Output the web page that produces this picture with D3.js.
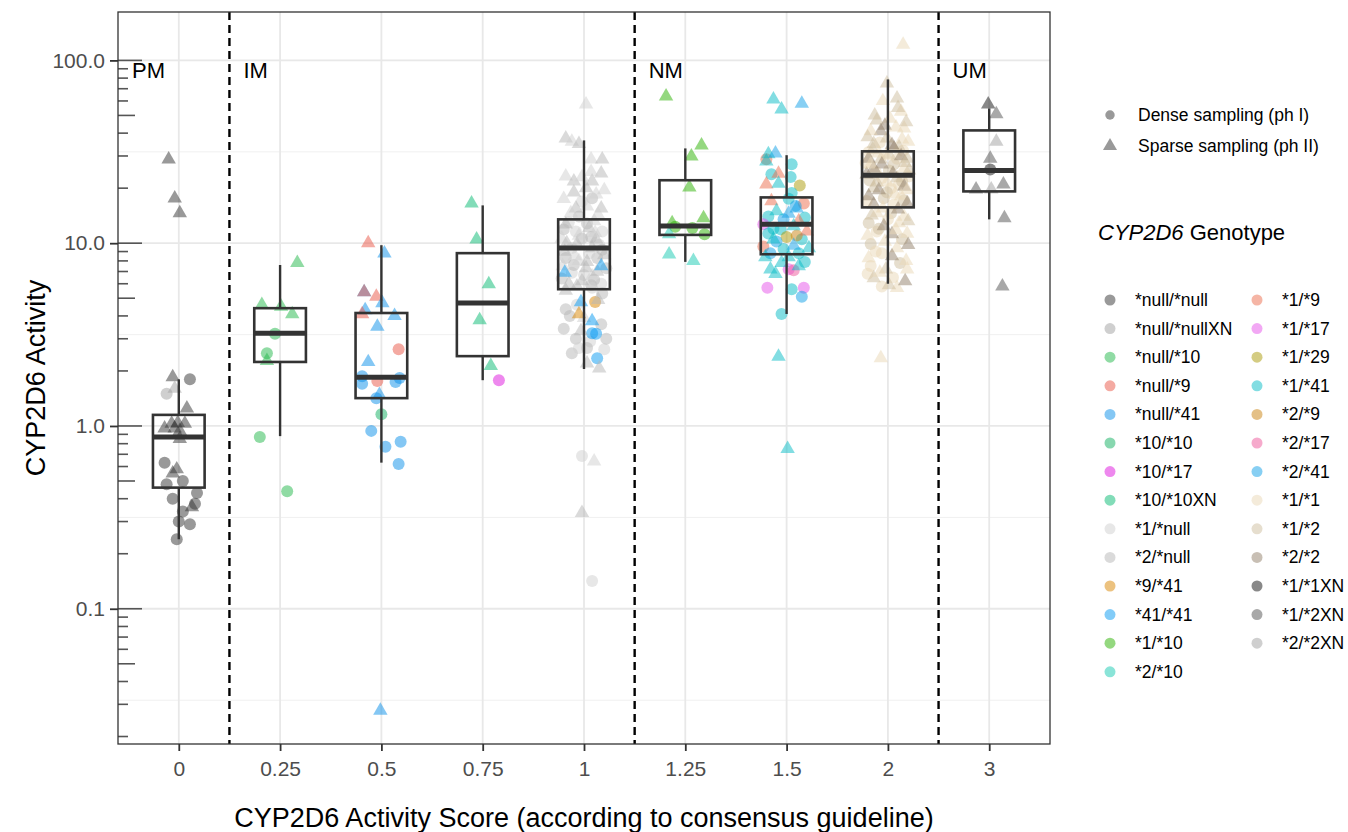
<!DOCTYPE html>
<html>
<head>
<meta charset="utf-8">
<script src="https://cdn.jsdelivr.net/npm/d3@7"></script>
<style>
  body { margin: 0; background: #fff; }
  text { font-family: "Liberation Sans", Arial, sans-serif; }
</style>
</head>
<body>
<div id="chart"></div>
<script>
// activity score categories and phenotype groups
const scores = ['0', '0.25', '0.5', '0.75', '1', '1.25', '1.5', '2', '3'];
const groupLabels = ['PM', 'IM', 'NM', 'UM'];
const groupStart = ['0', '0.25', '1.25', '3'];   // first score in each group
const yTicks = [0.1, 1, 10, 100];

const genotypes = ['*null/*null', '*null/*nullXN', '*null/*10', '*null/*9', '*null/*41', '*10/*10', '*10/*17',
  '*10/*10XN', '*1/*null', '*2/*null', '*9/*41', '*41/*41', '*1/*10', '*2/*10',
  '*1/*9', '*1/*17', '*1/*29', '*1/*41', '*2/*9', '*2/*17', '*2/*41', '*1/*1', '*1/*2', '*2/*2',
  '*1/*1XN', '*1/*2XN', '*2/*2XN'];
const genoColors = ['#333333', '#a0a0a0', '#22b84a', '#e95545', '#0a8fe9', '#10b060', '#dd11dd',
  '#05b971', '#d0d0d0', '#b6b6b6', '#d98500', '#0599f1', '#29b100', '#15c9b1',
  '#eb6b4b', '#e551e9', '#a99905', '#05bbc5', '#c9810d', '#ed5599', '#10a0e8', '#e9d7b5', '#cdbd9d', '#917f69',
  '#111111', '#515151', '#a0a0a0'];

// box statistics per score
const boxLow  = [0.24, 0.88, 0.63, 1.78, 2.05, 7.9, 4.1, 6.0, 13.5];
const boxQ1   = [0.46, 2.24, 1.42, 2.41, 5.6, 11.1, 8.7, 15.7, 19.2];
const boxMed  = [0.87, 3.22, 1.85, 4.70, 9.4, 12.4, 12.7, 23.5, 25.0];
const boxQ3   = [1.15, 4.41, 4.15, 8.82, 13.5, 22.1, 17.8, 31.8, 41.4];
const boxHigh = [1.8, 7.6, 9.75, 16.1, 36.5, 33.0, 30.3, 78.7, 54.6];

// points: [jitter (score units), activity, genotype, sampling D=dense S=sparse]
const pts0 = [
  [-0.10, 28.8, '*null/*null', 'S'], [-0.04, 17.6, '*null/*null', 'S'], [0.01, 14.6, '*null/*null', 'S'],
  [-0.06, 1.85, '*null/*null', 'S'], [0.11, 1.8, '*null/*null', 'D'], [-0.12, 1.5, '*null/*nullXN', 'D'],
  [-0.04, 1.6, '*null/*nullXN', 'S'], [0.08, 1.25, '*null/*null', 'S'], [-0.14, 0.97, '*null/*null', 'S'],
  [-0.07, 1.03, '*null/*null', 'S'], [-0.01, 1.04, '*null/*null', 'S'], [0.06, 1.03, '*null/*null', 'S'],
  [0.01, 0.94, '*null/*null', 'S'], [-0.04, 0.97, '*null/*null', 'S'], [0.01, 0.85, '*null/*null', 'S'],
  [-0.02, 0.58, '*null/*null', 'S'], [-0.06, 0.55, '*null/*null', 'S'], [0.13, 0.36, '*null/*null', 'S'],
  [-0.14, 0.63, '*null/*null', 'D'], [0.04, 0.50, '*null/*null', 'D'], [-0.12, 0.48, '*null/*null', 'D'],
  [0.18, 0.43, '*null/*null', 'D'], [-0.06, 0.40, '*null/*null', 'D'], [0.16, 0.375, '*null/*null', 'D'],
  [0.04, 0.34, '*null/*null', 'D'], [0.0, 0.30, '*null/*null', 'D'], [0.11, 0.29, '*null/*null', 'D'],
  [-0.02, 0.24, '*null/*null', 'D']
];
const pts025 = [
  [0.17, 7.8, '*null/*10', 'S'], [-0.18, 4.6, '*null/*10', 'S'], [0.01, 4.5, '*null/*10', 'S'],
  [0.12, 4.1, '*null/*10', 'S'], [-0.05, 3.2, '*null/*10', 'D'], [-0.13, 2.5, '*null/*10', 'D'],
  [-0.13, 2.27, '*null/*10', 'S'], [-0.20, 0.87, '*null/*10', 'D'], [0.07, 0.44, '*null/*10', 'D']
];
const pts05 = [
  [-0.13, 10.0, '*null/*9', 'S'], [0.03, 8.8, '*null/*41', 'S'], [-0.17, 5.4, '*null/*41', 'S'],
  [-0.17, 5.4, '*null/*9', 'S'], [-0.05, 5.1, '*null/*9', 'S'], [0.01, 4.7, '*null/*41', 'S'],
  [-0.16, 4.3, '*null/*41', 'S'], [-0.19, 4.1, '*null/*9', 'S'], [0.13, 4.0, '*null/*41', 'S'],
  [-0.04, 3.5, '*null/*41', 'S'], [0.17, 2.63, '*null/*9', 'D'], [-0.13, 2.24, '*null/*41', 'S'],
  [-0.19, 1.87, '*null/*41', 'D'], [-0.04, 1.76, '*null/*9', 'D'], [0.14, 1.74, '*null/*41', 'D'],
  [0.18, 1.83, '*null/*41', 'D'], [-0.19, 1.70, '*null/*41', 'D'], [-0.05, 1.42, '*null/*41', 'D'],
  [-0.02, 1.48, '*null/*41', 'S'], [0.0, 1.16, '*10/*10', 'D'], [-0.10, 0.94, '*null/*41', 'D'],
  [0.04, 0.77, '*null/*41', 'D'], [0.19, 0.82, '*null/*41', 'D'], [0.17, 0.62, '*null/*41', 'D'],
  [-0.01, 0.0277, '*null/*41', 'S']
];
const pts075 = [
  [-0.11, 16.5, '*10/*10XN', 'S'], [-0.06, 10.5, '*10/*10XN', 'S'], [0.06, 5.97, '*10/*10XN', 'S'],
  [-0.03, 3.8, '*10/*10XN', 'S'], [0.08, 2.13, '*10/*10XN', 'S'], [0.16, 1.78, '*10/*17', 'D']
];
const pts1 = [
  [0.02, 57.5, '*1/*null', 'S'], [-0.18, 37.5, '*2/*null', 'S'], [-0.12, 36, '*1/*null', 'S'],
  [-0.05, 35, '*2/*null', 'S'], [0.07, 28.8, '*1/*null', 'S'], [0.18, 28.8, '*2/*null', 'S'],
  [-0.18, 23.2, '*1/*null', 'S'], [-0.10, 21.8, '*2/*null', 'S'], [-0.02, 23, '*1/*null', 'S'],
  [0.08, 21.8, '*2/*null', 'S'], [0.17, 24.1, '*2/*null', 'S'], [0.07, 24.6, '*1/*null', 'S'],
  [0.08, 17.6, '*2/*null', 'D'], [-0.02, 16.9, '*1/*null', 'D'], [-0.08, 15.5, '*2/*null', 'S'],
  [0.03, 15.9, '*1/*null', 'S'], [0.17, 15.5, '*2/*null', 'S'], [-0.13, 14.6, '*1/*null', 'S'],
  [-0.18, 12.7, '*2/*null', 'S'], [-0.08, 11.6, '*1/*null', 'D'], [0.05, 12.1, '*2/*null', 'S'],
  [0.18, 11.6, '*1/*null', 'D'], [-0.22, 10.6, '*1/*null', 'S'], [-0.02, 10.6, '*2/*null', 'D'],
  [0.12, 10.5, '*2/*null', 'S'], [-0.12, 9.4, '*1/*null', 'D'], [0.08, 9.4, '*2/*null', 'S'],
  [-0.18, 8.3, '*2/*null', 'D'], [-0.05, 8.0, '*1/*null', 'S'], [0.13, 8.3, '*2/*null', 'D'],
  [0.02, 7.3, '*2/*null', 'S'], [-0.12, 6.9, '*1/*null', 'D'], [0.08, 6.6, '*1/*null', 'S'],
  [0.22, 7.3, '*2/*null', 'D'], [-0.22, 6.4, '*2/*null', 'D'], [-0.02, 6.2, '*2/*null', 'S'],
  [0.17, 6.0, '*1/*null', 'D'], [-0.15, 13.0, '*1/*null', 'D'], [0.10, 13.2, '*1/*null', 'S'],
  [0.03, 12.8, '*2/*null', 'D'], [-0.07, 9.9, '*2/*null', 'S'], [0.15, 9.8, '*1/*null', 'D'],
  [-0.19, 9.0, '*2/*null', 'S'], [0.05, 8.8, '*1/*null', 'D'], [0.20, 8.6, '*2/*null', 'S'],
  [-0.10, 7.6, '*2/*null', 'D'], [0.13, 7.0, '*2/*null', 'S'], [0.0, 6.7, '*1/*null', 'D'],
  [-0.15, 6.0, '*2/*null', 'S'], [0.07, 5.9, '*2/*null', 'D'], [-0.05, 11.0, '*1/*null', 'S'],
  [-0.20, 11.9, '*2/*null', 'D'], [0.11, 11.4, '*1/*null', 'S'],
  [-0.10, 19, '*2/*null', 'S'], [0.12, 18.5, '*1/*null', 'S'], [-0.20, 17.5, '*1/*null', 'S'],
  [0.02, 20, '*2/*null', 'S'], [0.20, 19.5, '*1/*null', 'S'], [-0.05, 14, '*2/*null', 'D'],
  [0.14, 14.3, '*1/*null', 'S'], [-0.17, 10.0, '*2/*null', 'S'], [0.07, 10.8, '*2/*null', 'D'],
  [-0.09, 8.5, '*1/*null', 'S'], [0.18, 9.2, '*2/*null', 'D'], [0.03, 7.9, '*2/*null', 'S'],
  [-0.21, 7.5, '*1/*null', 'S'], [0.10, 6.3, '*2/*null', 'D'], [-0.07, 5.8, '*2/*null', 'S'],
  [0.14, 4.9, '*2/*null', 'S'], [-0.14, 4.0, '*2/*null', 'D'], [0.0, 3.9, '*1/*null', 'S'],
  [0.17, 3.6, '*2/*null', 'D'], [-0.20, 3.4, '*2/*null', 'D'], [-0.03, 3.3, '*2/*null', 'S'],
  [0.06, 2.9, '*1/*null', 'D'], [-0.12, 2.5, '*2/*null', 'D'], [0.03, 2.2, '*2/*null', 'S'],
  [-0.19, 6.9, '*41/*41', 'S'], [0.17, 7.5, '*41/*41', 'S'],
  [0.18, 5.3, '*2/*null', 'D'], [-0.18, 5.5, '*2/*null', 'S'], [0.08, 5.7, '*1/*null', 'D'],
  [0.11, 4.76, '*9/*41', 'D'], [-0.05, 4.1, '*9/*41', 'S'], [-0.03, 4.76, '*41/*41', 'S'],
  [-0.18, 4.35, '*2/*null', 'D'], [-0.07, 4.6, '*1/*null', 'D'], [0.08, 3.75, '*41/*41', 'S'],
  [0.08, 3.22, '*41/*41', 'D'], [0.12, 3.2, '*41/*41', 'D'], [-0.08, 3.0, '*2/*null', 'D'],
  [0.03, 2.67, '*2/*null', 'D'], [0.20, 2.63, '*1/*null', 'D'], [-0.05, 2.67, '*1/*null', 'D'],
  [0.22, 3.0, '*2/*null', 'D'], [0.13, 2.35, '*41/*41', 'D'], [0.15, 2.07, '*2/*null', 'S'],
  [-0.02, 0.686, '*1/*null', 'D'], [0.10, 0.64, '*1/*null', 'S'], [-0.02, 0.335, '*2/*null', 'S'],
  [0.08, 0.142, '*1/*null', 'D']
];
const pts125 = [
  [-0.19, 63.6, '*1/*10', 'S'], [0.16, 34.3, '*1/*10', 'S'], [0.06, 29.9, '*1/*10', 'S'],
  [0.04, 20.2, '*1/*10', 'S'], [-0.13, 12.9, '*1/*10', 'S'], [0.18, 13.7, '*1/*10', 'S'],
  [0.07, 12.1, '*1/*10', 'D'], [0.19, 11.2, '*1/*10', 'D'], [-0.10, 12.3, '*1/*10', 'D'],
  [-0.16, 11.2, '*2/*10', 'S'], [-0.16, 8.7, '*2/*10', 'S'], [0.08, 8.0, '*2/*10', 'S']
];
const pts15 = [
  [-0.13, 61.2, '*1/*41', 'S'], [-0.05, 54, '*1/*41', 'S'], [0.15, 58, '*2/*41', 'S'],
  [-0.18, 30.7, '*1/*41', 'S'], [-0.11, 31, '*2/*41', 'S'], [-0.20, 28, '*1/*41', 'S'],
  [-0.20, 28.8, '*1/*9', 'D'], [0.05, 27, '*1/*41', 'D'], [0.04, 23, '*1/*41', 'D'],
  [-0.08, 24, '*1/*9', 'S'], [-0.15, 23.8, '*1/*41', 'D'], [-0.20, 21, '*1/*9', 'S'],
  [-0.08, 21.2, '*1/*41', 'S'], [0.13, 20.7, '*1/*29', 'D'], [0.05, 18.8, '*1/*41', 'D'],
  [-0.15, 17.0, '*1/*9', 'S'], [0.02, 17.5, '*1/*41', 'D'], [0.17, 16.5, '*1/*9', 'D'],
  [-0.10, 15, '*1/*41', 'S'], [0.10, 15.5, '*2/*41', 'S'], [-0.18, 14, '*1/*41', 'D'],
  [-0.03, 13.5, '*2/*41', 'D'], [0.12, 13.2, '*1/*9', 'S'], [-0.23, 12.7, '*1/*17', 'D'],
  [-0.06, 11.9, '*1/*41', 'D'], [0.07, 12.4, '*1/*41', 'S'], [0.20, 11.6, '*1/*9', 'S'],
  [-0.18, 11.3, '*1/*41', 'D'], [0.0, 10.8, '*1/*29', 'D'], [0.15, 10.5, '*1/*41', 'D'],
  [-0.10, 10.2, '*2/*41', 'D'], [0.07, 9.7, '*2/*41', 'S'], [-0.23, 9.6, '*1/*9', 'D'],
  [-0.03, 9.3, '*1/*41', 'D'], [0.22, 9.4, '*1/*41', 'S'], [-0.16, 8.8, '*2/*41', 'D'],
  [0.12, 8.8, '*1/*41', 'D'], [0.02, 8.4, '*1/*41', 'S'], [-0.21, 8.4, '*1/*41', 'S'],
  [0.10, 11.0, '*2/*9', 'D'], [-0.13, 12.0, '*1/*41', 'D'], [0.02, 14.5, '*2/*41', 'S'],
  [0.18, 13.8, '*1/*41', 'D'], [-0.13, 10.5, '*1/*41', 'S'], [0.09, 16.0, '*2/*41', 'D'],
  [-0.05, 7.8, '*1/*41', 'S'], [0.12, 7.5, '*1/*41', 'S'], [-0.16, 7.2, '*1/*41', 'S'],
  [0.02, 7.2, '*1/*17', 'D'], [0.18, 7.9, '*1/*41', 'D'], [-0.11, 6.8, '*1/*41', 'S'],
  [0.07, 7.1, '*2/*17', 'D'], [-0.19, 5.7, '*1/*17', 'D'], [0.17, 5.7, '*1/*17', 'D'],
  [0.05, 5.6, '*1/*41', 'D'], [0.15, 5.1, '*2/*41', 'D'], [-0.05, 4.1, '*1/*41', 'D'],
  [-0.08, 2.4, '*1/*41', 'S'], [0.01, 0.75, '*1/*41', 'S']
];
const pts2 = [
  [0.15, 122, '*1/*1', 'S'], [-0.01, 74.9, '*1/*2', 'S'], [0.09, 62, '*1/*2', 'S'],
  [0.13, 52.5, '*1/*1', 'S'], [-0.11, 47, '*1/*2', 'S'], [0.16, 42.5, '*1/*1', 'S'],
  [-0.07, 41, '*2/*2', 'S'], [-0.17, 41, '*1/*1', 'S'], [-0.01, 37.5, '*1/*2', 'S'],
  [0.14, 37, '*1/*1', 'S'], [-0.14, 35, '*1/*2', 'S'], [0.06, 33, '*2/*2', 'S'],
  [-0.19, 29, '*2/*2', 'S'], [-0.07, 28.8, '*1/*2', 'S'], [0.09, 29, '*1/*1', 'D'],
  [0.19, 29, '*1/*2', 'S'], [-0.14, 25.7, '*2/*2', 'S'], [0.01, 25, '*1/*2', 'D'],
  [0.16, 25.7, '*1/*1', 'S'], [-0.21, 23.8, '*2/*2', 'S'], [-0.06, 22.7, '*1/*1', 'D'],
  [0.09, 22.7, '*1/*2', 'S'], [0.21, 23.2, '*1/*1', 'D'], [-0.14, 20, '*1/*2', 'S'],
  [0.03, 20, '*1/*1', 'D'], [0.16, 20.4, '*2/*2', 'S'], [-0.19, 18.1, '*2/*2', 'S'],
  [-0.04, 17.6, '*1/*2', 'D'], [0.13, 18.1, '*1/*1', 'S'], [-0.14, 16.3, '*2/*2', 'S'],
  [0.06, 16.3, '*1/*1', 'D'], [0.19, 16.5, '*2/*2', 'S'], [-0.09, 31, '*1/*1', 'S'],
  [0.06, 27, '*1/*2', 'D'], [-0.17, 27, '*1/*1', 'S'], [0.11, 21, '*1/*1', 'D'],
  [-0.11, 21.5, '*1/*2', 'S'], [-0.01, 19, '*1/*2', 'D'], [0.19, 19.5, '*1/*1', 'S'],
  [0.01, 30.5, '*1/*2', 'S'], [-0.19, 31.5, '*1/*1', 'D'], [0.11, 33.5, '*1/*2', 'S'],
  [-0.11, 14.6, '*1/*1', 'S'], [0.03, 14.6, '*1/*2', 'D'], [0.16, 14, '*1/*1', 'S'],
  [-0.19, 12.9, '*1/*2', 'D'], [-0.04, 12.4, '*2/*2', 'S'], [0.11, 12.9, '*1/*1', 'S'],
  [-0.11, 11.6, '*1/*1', 'D'], [0.19, 11.3, '*1/*1', 'S'], [0.04, 11.2, '*2/*2', 'S'],
  [-0.17, 9.9, '*1/*2', 'D'], [0.09, 9.4, '*1/*1', 'S'], [-0.06, 8.8, '*1/*1', 'D'],
  [0.18, 8.0, '*1/*1', 'S'], [-0.17, 7.5, '*1/*1', 'D'], [-0.02, 7.2, '*1/*2', 'S'],
  [0.19, 7.2, '*1/*1', 'S'], [-0.14, 6.45, '*1/*2', 'S'], [-0.06, 5.8, '*1/*1', 'D'],
  [0.09, 5.7, '*1/*1', 'S'], [-0.07, 2.35, '*1/*1', 'S'],
  [-0.05, 60, '*1/*1', 'S'], [0.10, 55, '*1/*2', 'S'], [-0.13, 50, '*1/*2', 'S'],
  [0.02, 48, '*1/*1', 'S'], [0.18, 46, '*1/*2', 'S'], [-0.03, 44, '*2/*2', 'S'],
  [0.08, 43, '*1/*1', 'S'], [-0.20, 38, '*1/*2', 'S'], [0.20, 36, '*1/*1', 'S'],
  [-0.08, 35.5, '*1/*1', 'D'], [0.04, 34.5, '*2/*2', 'S'], [0.15, 32, '*1/*1', 'D'],
  [-0.15, 32.5, '*1/*2', 'S'], [-0.02, 30, '*1/*1', 'S'], [0.13, 30, '*2/*2', 'S'],
  [-0.22, 27.5, '*1/*1', 'D'], [-0.06, 27, '*2/*2', 'S'], [0.17, 27.5, '*1/*2', 'S'],
  [-0.12, 24.5, '*1/*1', 'D'], [0.05, 24, '*2/*2', 'S'], [0.21, 25, '*1/*2', 'S'],
  [-0.18, 22, '*1/*2', 'D'], [-0.01, 21.5, '*1/*1', 'S'], [0.14, 21.8, '*1/*2', 'D'],
  [-0.09, 19.5, '*2/*2', 'S'], [0.07, 18.5, '*1/*1', 'S'], [-0.21, 17, '*1/*1', 'D'],
  [0.16, 17.2, '*1/*2', 'D'], [-0.05, 15.5, '*1/*1', 'S'], [0.10, 15.3, '*2/*2', 'S'],
  [-0.16, 14.2, '*1/*2', 'S'], [0.0, 13.5, '*1/*1', 'D'], [0.20, 13.2, '*1/*2', 'S'],
  [-0.09, 12.0, '*1/*2', 'D'], [0.08, 11.8, '*1/*1', 'S'], [-0.20, 11.0, '*1/*1', 'S'],
  [0.14, 10.5, '*1/*2', 'D'], [-0.03, 10.2, '*1/*1', 'S'], [0.20, 9.8, '*2/*2', 'S'],
  [-0.12, 9.0, '*1/*1', 'D'], [0.04, 8.5, '*2/*2', 'S'], [-0.19, 8.3, '*1/*1', 'S'],
  [0.12, 7.8, '*1/*2', 'D'], [-0.08, 6.9, '*1/*1', 'S'], [0.05, 6.5, '*1/*1', 'D'],
  [0.17, 6.2, '*2/*2', 'S'], [-0.20, 6.8, '*1/*1', 'D'], [0.01, 5.9, '*1/*2', 'S']
];
const pts3 = [
  [-0.01, 57.5, '*1/*1XN', 'S'], [0.07, 50.8, '*1/*2XN', 'S'], [0.07, 36, '*2/*2XN', 'S'],
  [0.01, 29, '*1/*2XN', 'S'], [0.01, 25.3, '*1/*1XN', 'D'], [-0.13, 19.7, '*1/*2XN', 'S'],
  [0.02, 19.7, '*2/*2XN', 'S'], [0.14, 21, '*1/*2XN', 'S'], [0.15, 13.7, '*1/*2XN', 'S'],
  [0.13, 5.8, '*1/*2XN', 'S']
];
const pointsByScore = [pts0, pts025, pts05, pts075, pts1, pts125, pts15, pts2, pts3];

const W = 1348, H = 832;
const m = { left: 118, right: 1050, top: 12, bottom: 744 };
const GRAY = '#4d4d4d';

const svg = d3.select('#chart').append('svg').attr('width', W).attr('height', H);

const x = d3.scalePoint().domain(scores).range([m.left, m.right]).padding(0.6);
const y = d3.scaleLog().domain([0.0182, 184]).range([m.bottom, m.top]);
const color = d3.scaleOrdinal().domain(genotypes).range(genoColors);

// grid
const grid = svg.append('g');
const minor = [0.0316, 0.316, 3.16, 31.6];
grid.selectAll('.minor').data(minor).join('line')
  .attr('x1', m.left).attr('x2', m.right).attr('y1', d => y(d)).attr('y2', d => y(d))
  .attr('stroke', '#f0f0f0').attr('stroke-width', 1);
grid.selectAll('.major').data(yTicks).join('line')
  .attr('x1', m.left).attr('x2', m.right).attr('y1', d => y(d)).attr('y2', d => y(d))
  .attr('stroke', '#e8e8e8').attr('stroke-width', 1.8);
grid.selectAll('.vmajor').data(scores).join('line')
  .attr('x1', d => x(d)).attr('x2', d => x(d)).attr('y1', m.top).attr('y2', m.bottom)
  .attr('stroke', '#e8e8e8').attr('stroke-width', 1.8);

// log ticks inside the panel
const logTicks = [];
[0.01, 0.1, 1, 10, 100].forEach(dec => {
  for (let k = 1; k <= 9; k++) {
    const v = dec * k;
    if (v >= y.domain()[0] && v <= y.domain()[1]) logTicks.push({ v, k });
  }
});
svg.append('g').selectAll('line').data(logTicks).join('line')
  .attr('x1', m.left).attr('x2', d => m.left + (d.k === 1 ? 24 : d.k === 5 ? 17 : 10))
  .attr('y1', d => y(d.v)).attr('y2', d => y(d.v))
  .attr('stroke', '#555').attr('stroke-width', 1.6);

// group separators
const sep = groupStart.slice(1).map(s => x(s) - x.step() / 2);
svg.append('g').selectAll('line').data(sep).join('line')
  .attr('x1', d => d).attr('x2', d => d).attr('y1', m.top).attr('y2', m.bottom)
  .attr('stroke', '#000').attr('stroke-width', 2.4).attr('stroke-dasharray', '8,5');

svg.append('g').selectAll('text').data(groupLabels).join('text')
  .attr('x', (d, i) => (i === 0 ? m.left : sep[i - 1]) + 14)
  .attr('y', 78).attr('font-size', 22).attr('fill', '#000').text(d => d);

// points
const pts = pointsByScore.flatMap((arr, i) => arr.map(p => ({ s: scores[i], dx: p[0], v: p[1], g: p[2], t: p[3] })));
const tri = d3.symbol().type(d3.symbolTriangle).size(90);
const pg = svg.append('g');
pg.selectAll('circle').data(pts.filter(p => p.t === 'D')).join('circle')
  .attr('cx', d => x(d.s) + d.dx * x.step()).attr('cy', d => y(d.v)).attr('r', 6)
  .attr('fill', d => color(d.g)).attr('fill-opacity', 0.5);
pg.selectAll('path').data(pts.filter(p => p.t === 'S')).join('path')
  .attr('d', tri)
  .attr('transform', d => `translate(${x(d.s) + d.dx * x.step()},${y(d.v)})`)
  .attr('fill', d => color(d.g)).attr('fill-opacity', 0.5);

// boxplots
const bw = x.step() * 0.51;
const bg = svg.append('g').selectAll('g').data(scores).join('g');
bg.append('line').attr('x1', d => x(d)).attr('x2', d => x(d))
  .attr('y1', (d, i) => y(boxHigh[i])).attr('y2', (d, i) => y(boxQ3[i]))
  .attr('stroke', '#333').attr('stroke-width', 2.4);
bg.append('line').attr('x1', d => x(d)).attr('x2', d => x(d))
  .attr('y1', (d, i) => y(boxQ1[i])).attr('y2', (d, i) => y(boxLow[i]))
  .attr('stroke', '#333').attr('stroke-width', 2.4);
bg.append('rect').attr('x', d => x(d) - bw / 2).attr('width', bw)
  .attr('y', (d, i) => y(boxQ3[i])).attr('height', (d, i) => y(boxQ1[i]) - y(boxQ3[i]))
  .attr('fill', 'none').attr('stroke', '#333').attr('stroke-width', 2.6);
bg.append('line').attr('x1', d => x(d) - bw / 2).attr('x2', d => x(d) + bw / 2)
  .attr('y1', (d, i) => y(boxMed[i])).attr('y2', (d, i) => y(boxMed[i]))
  .attr('stroke', '#333').attr('stroke-width', 5);

// panel border
svg.append('rect').attr('x', m.left).attr('y', m.top)
  .attr('width', m.right - m.left).attr('height', m.bottom - m.top)
  .attr('fill', 'none').attr('stroke', '#333').attr('stroke-width', 1.3);

// axes
const yAxis = svg.append('g').attr('transform', `translate(${m.left},0)`)
  .call(d3.axisLeft(y).tickValues(yTicks).tickFormat(d3.format('.1f')).tickSize(8).tickPadding(5));
const xAxis = svg.append('g').attr('transform', `translate(0,${m.bottom})`)
  .call(d3.axisBottom(x).tickSize(7).tickPadding(10));
[yAxis, xAxis].forEach(a => {
  a.select('.domain').remove();
  a.selectAll('.tick line').attr('stroke', '#333').attr('stroke-width', 1.8);
  a.selectAll('.tick text').attr('fill', GRAY).attr('font-size', 21)
    .attr('font-family', '"Liberation Sans", Arial, sans-serif');
});

svg.append('text').attr('transform', `translate(45,${(m.top + m.bottom) / 2}) rotate(-90)`)
  .attr('text-anchor', 'middle').attr('font-size', 27).text('CYP2D6 Activity');
svg.append('text').attr('x', (m.left + m.right) / 2).attr('y', 827)
  .attr('text-anchor', 'middle').attr('font-size', 27)
  .text('CYP2D6 Activity Score (according to consensus guideline)');

// legend: sampling shape
const shapeLeg = [{ t: 'D', label: 'Dense sampling (ph I)' }, { t: 'S', label: 'Sparse sampling (ph II)' }];
const sl = svg.append('g').selectAll('g').data(shapeLeg).join('g')
  .attr('transform', (d, i) => `translate(1110,${115 + i * 31})`);
sl.append('path')
  .attr('d', d => d.t === 'D' ? d3.symbol().type(d3.symbolCircle).size(70)() : d3.symbol().type(d3.symbolTriangle).size(85)())
  .attr('fill', '#333').attr('fill-opacity', 0.5);
sl.append('text').attr('x', 28).attr('y', 6).attr('font-size', 17.5).attr('fill', '#000').text(d => d.label);

// legend: genotype
const title = svg.append('text').attr('x', 1098).attr('y', 240).attr('font-size', 22);
title.append('tspan').attr('font-style', 'italic').text('CYP2D6');
title.append('tspan').text(' Genotype');

const perCol = 14;
const gl = svg.append('g').selectAll('g').data(genotypes).join('g')
  .attr('transform', (d, i) => `translate(${i < perCol ? 1110 : 1257},${300 + (i % perCol) * 28.6})`);
gl.append('circle').attr('r', 5.5).attr('fill', d => color(d)).attr('fill-opacity', 0.5);
gl.append('text').attr('x', 25).attr('y', 6).attr('font-size', 17.5).attr('fill', '#000').text(d => d);
</script>
</body>
</html>
